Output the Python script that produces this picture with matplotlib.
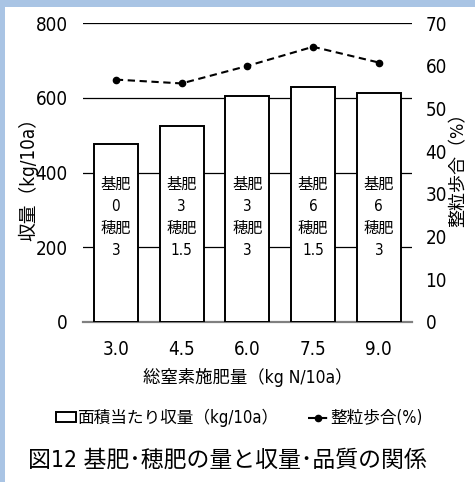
import matplotlib
matplotlib.use("Agg")
import matplotlib.pyplot as plt
from matplotlib import font_manager
from matplotlib.patches import Rectangle

# 総窒素施肥量ごとの収量と整粒歩合
n_total = ["3.0", "4.5", "6.0", "7.5", "9.0"]
yield_kg = [477, 525, 606, 628, 613]
seiryu = [56.8, 55.9, 60.0, 64.5, 60.8]
kihi = ["0", "3", "3", "6", "6"]
suihi = ["3", "1.5", "3", "1.5", "3"]


def pick_narrow():
    # 英数字用に幅の狭い書体を探す
    entries = font_manager.fontManager.ttflist
    order = ["Liberation Sans Narrow", "DejaVu Sans", "Noto Sans", "Roboto Condensed",
             "Roboto", "Open Sans", "Lato", "Inter"]
    for name in order:
        for e in entries:
            if e.name != name or e.style != "normal":
                continue
            if str(e.weight) not in ("400", "normal", "regular"):
                continue
            if "Narrow" in name or "Condensed" in name:
                return name, "normal"
            if e.stretch in ("condensed", "semi-condensed", "extra-condensed"):
                return name, e.stretch
    return "Noto Sans CJK JP", "normal"


narrow, stretch = pick_narrow()
plt.rcParams["font.family"] = [narrow, "Noto Sans CJK JP", "DejaVu Sans"]
plt.rcParams["font.stretch"] = stretch

fig = plt.figure(figsize=(4.75, 4.82), dpi=100)
ax = fig.add_axes([0.1747, 0.3326, 0.692, 0.619])

x = range(len(n_total))
bars = ax.bar(x, yield_kg, width=0.67, color="white", edgecolor="black",
              linewidth=1.4, zorder=3)
ax.set_xlim(-0.5, 4.5)
ax.set_ylim(0, 800)
ax.set_yticks([0, 200, 400, 600, 800])
ax.yaxis.grid(True, color="black", linewidth=0.9)
ax.set_axisbelow(True)
ax.set_xticks(list(x))
ax.set_xticklabels(n_total)
for s in ["left", "right", "top"]:
    ax.spines[s].set_visible(False)
ax.spines["bottom"].set_color("#808080")
ax.spines["bottom"].set_linewidth(1.6)
ax.tick_params(axis="both", length=0, labelsize=13.5)
ax.tick_params(axis="y", pad=11)
ax.tick_params(axis="x", pad=13)
ax.set_xlabel("総窒素施肥量（kg N/10a）", fontsize=12.5, labelpad=7)

# 棒の中の施肥内訳
for i in x:
    ax.text(i, 280, "基肥\n" + kihi[i] + "\n穂肥\n" + suihi[i], ha="center",
            va="center", fontsize=11, linespacing=1.6, zorder=4)

ax2 = ax.twinx()
line, = ax2.plot(x, seiryu, color="black", linestyle=(0, (3.5, 2.2)),
                 linewidth=1.5, marker="o", markersize=4.5)
ax2.set_ylim(0, 70)
ax2.set_yticks(range(0, 80, 10))
for s in ["left", "right", "top", "bottom"]:
    ax2.spines[s].set_visible(False)
ax2.tick_params(axis="y", length=0, labelsize=13.5, pad=10)

fig.text(0.06, 0.637, "収量（kg/10a）", rotation=90, ha="center", va="center",
         fontsize=13.5)
fig.text(0.965, 0.658, "整粒歩合（%）", rotation=90, ha="center", va="center",
         fontsize=13)

fig.legend([bars, line], ["面積当たり収量（kg/10a）", "整粒歩合(%)"],
           loc="center", bbox_to_anchor=(0.503, 0.133), ncol=2, frameon=False,
           fontsize=12, handlelength=1.2, handleheight=0.5, handletextpad=0.1,
           columnspacing=1.8)

fig.text(0.059, 0.046, "図12 基肥･穂肥の量と収量･品質の関係", ha="left",
         va="center", fontsize=16.5)

# 上と左の枠
fig.patches.append(Rectangle((0, 1 - 7 / 482), 1, 7 / 482, transform=fig.transFigure,
                             facecolor="#a9c4e4", edgecolor="none"))
fig.patches.append(Rectangle((0, 0), 5 / 475, 1, transform=fig.transFigure,
                             facecolor="#a9c4e4", edgecolor="none"))

fig.savefig("out.png", dpi=100)
